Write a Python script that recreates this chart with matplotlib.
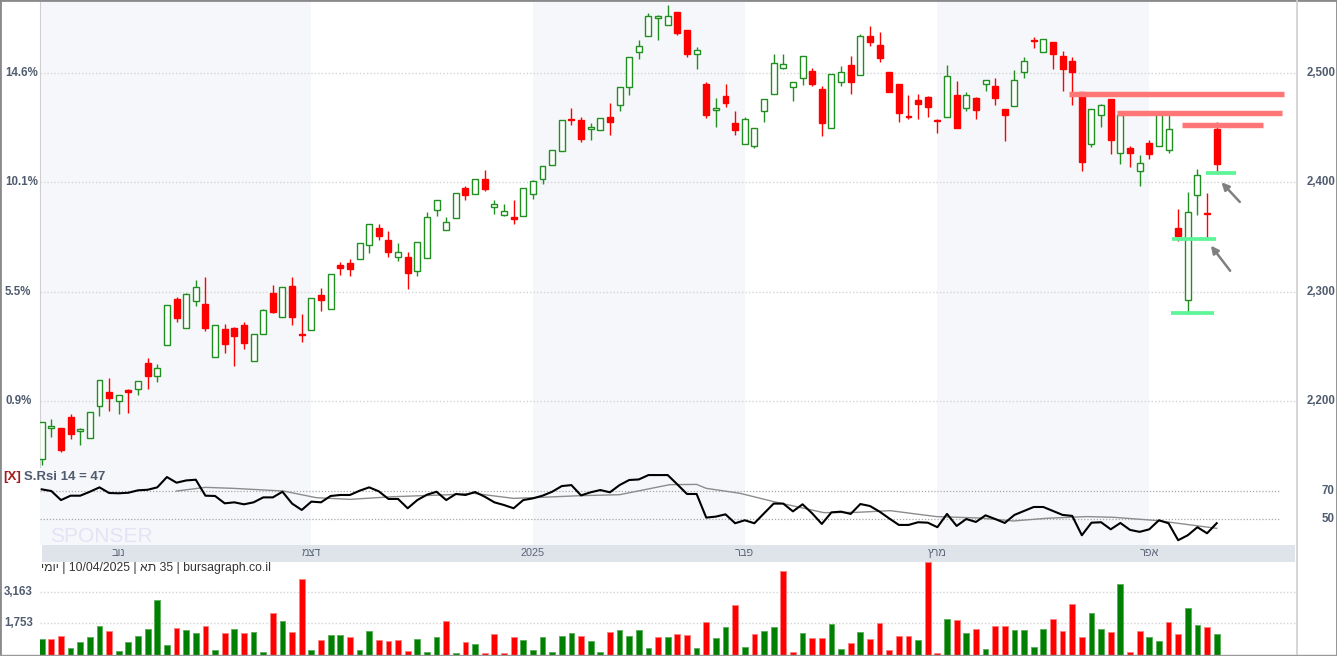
import numpy as np
import matplotlib.pyplot as plt
from matplotlib.transforms import blended_transform_factory
from matplotlib.patches import Rectangle
from matplotlib.lines import Line2D

plt.rcParams['font.family'] = ['Liberation Sans', 'DejaVu Sans']

# daily candles, TA-35 (end of Oct 2024 .. 10/04/2025)
opens = [2147, 2175, 2175, 2185, 2172, 2166, 2195, 2208, 2200, 2210,
         2211, 2235, 2223, 2251, 2293, 2267, 2291, 2289, 2240, 2266,
         2267, 2269, 2236, 2261, 2299, 2277, 2305, 2261, 2265, 2297,
         2284, 2324, 2326, 2330, 2343, 2358, 2347, 2332, 2332, 2319,
         2331, 2375, 2356, 2367, 2395, 2389, 2403, 2377, 2370, 2368,
         2369, 2389, 2403, 2416, 2429, 2458, 2457, 2449, 2448, 2460,
         2471, 2487, 2519, 2534, 2550, 2544, 2556, 2539, 2517, 2490,
         2466, 2479, 2454, 2435, 2433, 2465, 2481, 2505, 2487, 2495,
         2502, 2485, 2450, 2492, 2507, 2498, 2534, 2526, 2501, 2490,
         2461, 2475, 2478, 2457, 2460, 2480, 2468, 2477, 2490, 2488,
         2467, 2470, 2501, 2530, 2519, 2528, 2516, 2511, 2483, 2435,
         2462, 2476, 2427, 2431, 2410, 2436, 2433, 2430, 2358, 2292,
         2388, 2372, 2449]
highs = [2181, 2183, 2175, 2188, 2175, 2190, 2219, 2221, 2205, 2211,
         2218, 2239, 2234, 2288, 2295, 2299, 2311, 2313, 2269, 2270,
         2268, 2272, 2261, 2284, 2306, 2304, 2313, 2279, 2294, 2303,
         2316, 2327, 2330, 2344, 2362, 2362, 2355, 2344, 2336, 2345,
         2373, 2384, 2368, 2390, 2397, 2403, 2411, 2384, 2380, 2384,
         2395, 2402, 2415, 2430, 2457, 2468, 2460, 2454, 2459, 2473,
         2487, 2515, 2530, 2555, 2553, 2562, 2556, 2539, 2524, 2492,
         2477, 2490, 2465, 2460, 2450, 2476, 2517, 2517, 2492, 2516,
         2505, 2488, 2499, 2506, 2516, 2536, 2543, 2538, 2501, 2490,
         2480, 2481, 2479, 2458, 2507, 2493, 2483, 2478, 2494, 2495,
         2467, 2503, 2515, 2533, 2531, 2528, 2520, 2515, 2483, 2467,
         2472, 2476, 2462, 2433, 2425, 2439, 2464, 2465, 2376, 2391,
         2412, 2390, 2455]
lows = [2141, 2167, 2153, 2165, 2160, 2166, 2186, 2191, 2188, 2189,
        2205, 2211, 2217, 2251, 2272, 2267, 2287, 2264, 2240, 2244,
        2232, 2247, 2236, 2261, 2280, 2277, 2269, 2254, 2265, 2282,
        2284, 2315, 2314, 2330, 2335, 2347, 2332, 2328, 2302, 2314,
        2331, 2369, 2356, 2367, 2384, 2389, 2392, 2371, 2369, 2362,
        2369, 2385, 2398, 2416, 2429, 2452, 2437, 2439, 2448, 2443,
        2465, 2480, 2513, 2534, 2530, 2544, 2535, 2515, 2504, 2459,
        2451, 2469, 2443, 2435, 2431, 2455, 2481, 2504, 2474, 2489,
        2488, 2442, 2450, 2488, 2481, 2498, 2525, 2510, 2483, 2455,
        2458, 2458, 2460, 2445, 2460, 2450, 2465, 2458, 2484, 2471,
        2438, 2470, 2495, 2523, 2519, 2504, 2484, 2471, 2410, 2432,
        2451, 2426, 2417, 2414, 2397, 2421, 2433, 2427, 2346, 2279,
        2370, 2348, 2408]
closes = [2181, 2177, 2155, 2170, 2174, 2190, 2219, 2203, 2205, 2208,
          2218, 2223, 2230, 2288, 2276, 2298, 2304, 2267, 2269, 2252,
          2259, 2253, 2261, 2283, 2281, 2304, 2277, 2260, 2294, 2292,
          2316, 2322, 2321, 2344, 2362, 2351, 2336, 2336, 2317, 2345,
          2368, 2384, 2364, 2390, 2388, 2403, 2394, 2380, 2374, 2366,
          2395, 2401, 2415, 2430, 2457, 2457, 2440, 2451, 2459, 2455,
          2487, 2515, 2525, 2552, 2552, 2552, 2537, 2517, 2521, 2462,
          2468, 2473, 2448, 2458, 2450, 2476, 2509, 2508, 2492, 2516,
          2490, 2454, 2499, 2501, 2492, 2534, 2528, 2514, 2483, 2463,
          2460, 2472, 2469, 2456, 2497, 2450, 2480, 2466, 2494, 2477,
          2462, 2494, 2511, 2529, 2531, 2517, 2504, 2501, 2419, 2467,
          2471, 2439, 2462, 2427, 2418, 2426, 2464, 2449, 2351, 2373,
          2407, 2371, 2417]

volumes = [1025, 1025, 1162, 646, 889, 1116, 1617, 1389, 480, 889,
           1162, 1480, 2799, 752, 1526, 1435, 1298, 1617, 525, 1298,
           1480, 1298, 1344, 434, 2208, 1844, 1344, 3754, 525, 980,
           1207, 1207, 1116, 525, 1389, 980, 934, 980, 480, 1025,
           434, 1116, 1844, 389, 889, 798, 389, 1253, 389, 1116,
           980, 525, 1116, 434, 1162, 1298, 1162, 934, 434, 1344,
           1435, 1162, 1435, 616, 1116, 1116, 1253, 1207, 616, 1798,
           1071, 1571, 2572, 661, 1253, 1389, 1571, 4118, 434, 1298,
           1071, 1071, 1708, 571, 843, 1344, 1025, 1753, 525, 1162,
           1162, 980, 4527, 389, 1935, 1889, 1298, 1480, 571, 1617,
           1617, 1435, 1435, 661, 1480, 1935, 1389, 2617, 1116, 2208,
           1480, 1344, 3527, 434, 1389, 1116, 934, 1798, 1253, 2435,
           1662, 1571, 1253]
vol_dir = ("grrggggrgg" "ggggrggrgr" "grggrgrrgr" "ggrggrrrrg" "ggrgrgrrrr"
           "ggggggrggr" "ggggrgrrgr" "ggrgrggrrg" "rrggrgrrrr" "rgrrgrgrgr"
           "rggggrrrrg" "grgrrggrrg" "grg")

rsi = [71.2, 70.0, 63.6, 66.7, 66.7, 69.5, 72.6, 68.6, 68.4, 68.8,
       70.5, 70.9, 72.6, 79.9, 75.9, 77.5, 78.0, 66.7, 66.5, 61.3,
       62.0, 60.6, 62.0, 65.5, 65.5, 69.5, 61.1, 56.6, 62.5, 62.0,
       66.5, 67.2, 67.2, 70.2, 72.6, 69.8, 64.4, 64.4, 57.8, 63.6,
       67.4, 69.5, 63.6, 67.9, 67.2, 69.3, 66.0, 62.0, 60.1, 57.8,
       63.6, 64.8, 66.7, 69.5, 73.5, 74.2, 66.9, 69.1, 70.7, 69.1,
       74.2, 77.8, 78.2, 81.3, 81.3, 81.3, 74.7, 67.9, 67.9, 51.2,
       51.9, 53.5, 47.2, 49.3, 47.2, 54.2, 61.1, 61.1, 55.6, 60.6,
       54.2, 46.7, 54.9, 55.4, 53.8, 60.8, 59.4, 55.4, 50.6, 46.0,
       46.0, 47.9, 47.6, 44.4, 53.8, 45.3, 50.2, 48.1, 52.8, 50.2,
       47.4, 53.1, 55.9, 58.7, 58.7, 55.9, 53.1, 52.4, 38.7, 47.6,
       47.9, 42.9, 47.4, 42.5, 41.1, 42.9, 49.3, 47.2, 35.2, 38.7,
       44.4, 40.1, 47.2]
rsi_sig_x = [14, 17, 19.9, 25.1, 28.5, 32, 36.5, 42.4, 44.8, 49, 51.7, 55.9, 60,
             65.2, 68, 69, 72.5, 76, 81.2, 84.6, 88.1, 92.9, 97.4, 100.9, 104.3,
             108.5, 111.3, 115.8, 122]
rsi_sig_y = [70.0, 72.6, 71.9, 70.0, 65.3, 64.1, 66.0, 67.4, 68.4, 64.8, 65.5, 66.7,
             67.4, 74.5, 74.7, 71.9, 68.4, 62.5, 54.7, 54.9, 56.1, 51.9, 50.9, 48.8,
             50.7, 51.9, 51.4, 49.1, 43.6]

month_pos = [8, 28, 51, 73, 93, 115]
month_labels = ['נוב', 'דצמ', '2025', 'פבר', 'מרץ', 'אפר']
band_start = [-1, 51, 93]
band_end = [28, 73, 115]

price_ticks = [2200, 2300, 2400, 2500]
price_labels = ['2,200', '2,300', '2,400', '2,500']
pct_labels = ['0.9%', '5.5%', '10.1%', '14.6%']
rsi_ticks = [50, 70]
vol_ticks = [1753, 3163]
vol_labels = ['1,753', '3,163']

# drawn resistance / support marks and arrows
res_start = [106.7, 111.6, 118.4]
res_end = [129.0, 128.8, 126.8]
res_price = [2480.4, 2463.8, 2452.1]
sup_start = [120.9, 117.4, 117.3]
sup_end = [124.0, 121.9, 121.7]
sup_price = [2408.1, 2348.5, 2280.6]
arrow_tail = [(124.4, 2382), (123.4, 2319)]
arrow_head = [(122.5, 2400), (121.4, 2342)]


def heb(s):
    # matplotlib lays glyphs left to right, so hebrew words are flipped
    if any('\u0590' <= ch <= '\u05ff' for ch in s):
        return s[::-1]
    return s


W, H = 1337, 656
GREEN = '#1f8f1f'
RED = '#ff0000'
TXT = '#4f5b6e'

fig = plt.figure(figsize=(W / 100, H / 100), dpi=100)
fig.patch.set_facecolor('white')

x0, x1 = -0.177, 130.34
idx = np.arange(len(opens))
o = np.array(opens, float)
c = np.array(closes, float)
up = c >= o
edge = np.where(up, GREEN, RED)
face = np.where(up, 'white', RED)

# ---- price panel
ax = fig.add_axes([40 / W, 1 - 468 / H, 1257 / W, 466 / H])
ax.set_xlim(x0, x1)
ax.set_ylim(2138.5, 2565)
for s, e in zip(band_start, band_end):
    ax.axvspan(s, e, color='#f5f7fa', lw=0, zorder=0)
for t in price_ticks:
    ax.axhline(t, color='#d4d4d4', lw=1, ls=(0, (1, 1.5)), zorder=1)

ax.vlines(idx, lows, highs, colors=edge, lw=1, zorder=2)
body = np.maximum(np.abs(c - o), 0.9)
ax.bar(idx, body, bottom=np.minimum(o, c), width=0.62, color=face,
       edgecolor=edge, linewidth=1, zorder=3)

for s, e, p in zip(res_start, res_end, res_price):
    ax.hlines(p, s, e, colors='#ff7676', lw=3.9, zorder=4)
for s, e, p in zip(sup_start, sup_end, sup_price):
    ax.hlines(p, s, e, colors='#5cf598', lw=2.7, zorder=4)
for tail, head in zip(arrow_tail, arrow_head):
    ax.annotate('', xy=head, xytext=tail, zorder=5,
                arrowprops=dict(arrowstyle='-|>', color='#808080', lw=1.8,
                                mutation_scale=11, shrinkA=0, shrinkB=0))

ax.set_xticks([])
ax.set_yticks([])
for k in ['top', 'right', 'bottom']:
    ax.spines[k].set_visible(False)
ax.spines['left'].set_color('#d0d0d0')

tl = blended_transform_factory(fig.transFigure, ax.transData)
for t, lab, pl in zip(price_ticks, price_labels, pct_labels):
    fig.text(1307 / W, t, lab, transform=tl, ha='left', va='center',
             fontsize=8.3, color=TXT, fontweight='bold')
    fig.text(5 / W, t, pl, transform=tl, ha='left', va='center',
             fontsize=8.3, color=TXT, fontweight='bold')

# ---- rsi panel
ar = fig.add_axes([40 / W, 1 - 545 / H, 1257 / W, 77 / H])
ar.set_xlim(x0, x1)
ar.set_ylim(31.8, 86.3)
for s, e in zip(band_start, band_end):
    ar.axvspan(s, e, color='#f5f7fa', lw=0, zorder=0)
for t in rsi_ticks:
    ar.hlines(t, x0, 128.5, colors='#a8a8a8', lw=0.9, linestyles=(0, (1, 1.5)), zorder=1)
ar.plot(rsi_sig_x, rsi_sig_y, color='#8c8c8c', lw=1, zorder=2)
ar.plot(idx, rsi, color='black', lw=1.5, zorder=3)
ar.axis('off')
tr = blended_transform_factory(fig.transFigure, ar.transData)
for t in rsi_ticks:
    fig.text(1322 / W, t, str(t), transform=tr, ha='left', va='center',
             fontsize=8.3, color=TXT, fontweight='bold')

fig.text(3 / W, 1 - 477 / H, '[X]', ha='left', va='center', fontsize=9.5,
         color='#a31b1b', fontweight='bold')
fig.text(24 / W, 1 - 477 / H, 'S.Rsi 14 = 47', ha='left', va='center', fontsize=9.5,
         color=TXT, fontweight='bold')
fig.text(50 / W, 1 - 536 / H, 'SPONSER', ha='left', va='center', fontsize=15,
         color='#d9d4f2', alpha=0.6, zorder=0)

# ---- month strip
ad = fig.add_axes([41.7 / W, 1 - 562 / H, 1253 / W, 17 / H])
ad.set_xlim(0, (1253) / 9.631)
ad.set_ylim(0, 1)
ad.set_facecolor('#dfe3ea')
for p, lab in zip(month_pos, month_labels):
    ad.text(p, 0.5, heb(lab), ha='center', va='center', fontsize=7.8, color='#5b6577')
ad.set_xticks([])
ad.set_yticks([])
for sp in ad.spines.values():
    sp.set_visible(False)

fig.text(41 / W, 1 - 568 / H,
         heb('יומי') + ' | 10/04/2025 | ' + heb('תא') + ' 35 | bursagraph.co.il',
         ha='left', va='center', fontsize=8.8, color='#333333')

# ---- volume panel
av = fig.add_axes([40 / W, 1.5 / H, 1257 / W, 92.5 / H])
av.set_xlim(x0, x1)
vbase = 343
av.set_ylim(vbase, 4541)
for t in vol_ticks:
    av.axhline(t, color='#d4d4d4', lw=1, ls=(0, (1, 1.5)), zorder=0)
vcol = ['#008000' if d == 'g' else '#ff0000' for d in vol_dir]
vedge = ['#5fb05f' if d == 'g' else '#ff8080' for d in vol_dir]
av.bar(idx, np.array(volumes) - vbase, bottom=vbase, width=0.6, color=vcol,
       edgecolor=vedge, linewidth=0.7, zorder=2)
av.axis('off')
tv = blended_transform_factory(fig.transFigure, av.transData)
for t, lab in zip(vol_ticks, vol_labels):
    fig.text(4 / W, t, lab, transform=tv, ha='left', va='center',
             fontsize=8.3, color=TXT, fontweight='bold')

# frame lines
fig.add_artist(Line2D([1296.5 / W, 1296.5 / W], [0, 1], color='#cfcfcf', lw=1.2))
fig.add_artist(Line2D([0, 1], [1 - 655 / H, 1 - 655 / H], color='#9a9a9a', lw=1))
fig.add_artist(Rectangle((0, 0), 1, 1, transform=fig.transFigure, fill=False,
                         edgecolor='#8a8a8a', lw=2))

fig.savefig('out.png', dpi=100)
